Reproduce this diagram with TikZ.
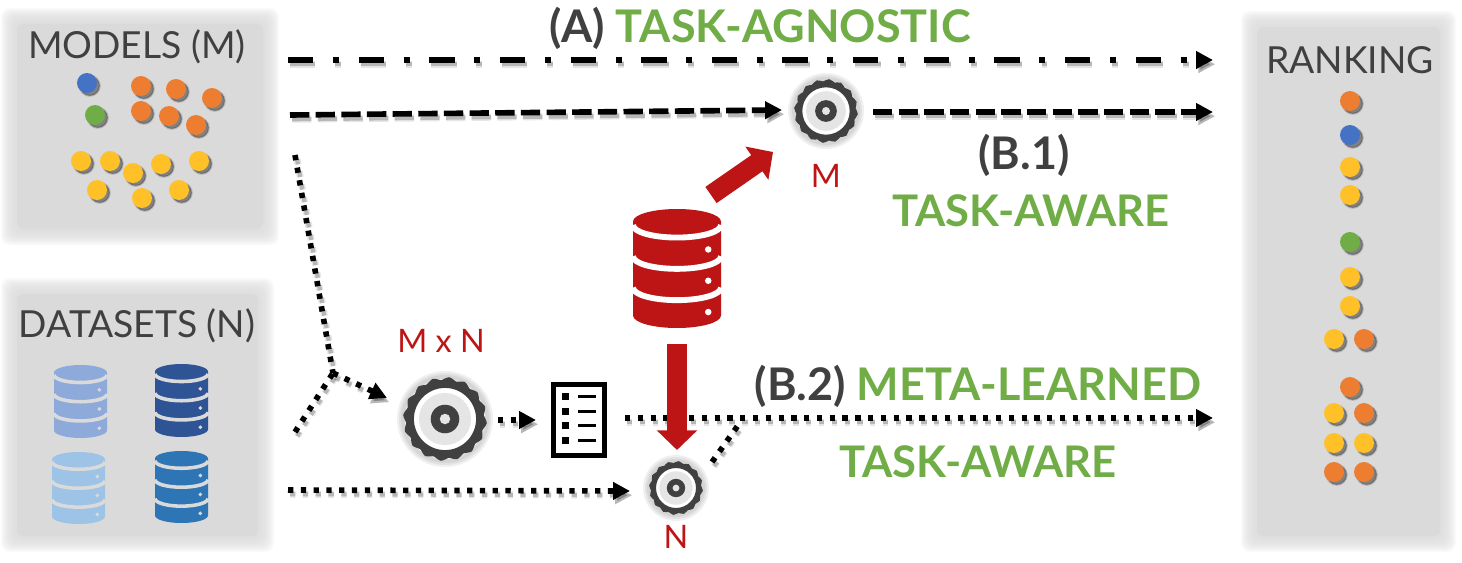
\documentclass[tikz,border=0pt]{standalone}
\usepackage{fontspec}
\setmainfont{Lato}
\usetikzlibrary{arrows.meta}
\definecolor{boxgray}{RGB}{218, 218, 218}
\definecolor{textgray}{RGB}{64, 64, 64}
\definecolor{gearred}{RGB}{189, 21, 21}
\definecolor{taskgreen}{RGB}{112, 173, 71}
\definecolor{dotblue}{RGB}{68, 114, 196}
\definecolor{dotgreen}{RGB}{112, 173, 71}
\definecolor{dotorange}{RGB}{237, 125, 49}
\definecolor{dotyellow}{RGB}{255, 192, 40}
\definecolor{dbone}{RGB}{142, 170, 219}
\definecolor{dbtwo}{RGB}{47, 84, 150}
\definecolor{dbthree}{RGB}{157, 195, 230}
\definecolor{dbfour}{RGB}{46, 117, 182}
\tikzstyle{softbox} = [draw=none, fill=boxgray, rounded corners=9]
\tikzstyle{softedge} = [draw=none, fill=boxgray, opacity=0.12, rounded corners=12]
\tikzstyle{boxtitle} = [anchor=base, text=textgray, font=\fontsize{53}{53}\selectfont, inner sep=0]
\tikzstyle{headlabel} = [anchor=base, font=\bfseries\fontsize{64}{64}\selectfont, inner sep=0]
\tikzstyle{tasklabel} = [anchor=base, text=taskgreen, font=\bfseries\fontsize{62}{62}\selectfont, inner sep=0]
\tikzstyle{redlabel} = [anchor=base, text=gearred, font=\fontsize{46}{46}\selectfont, inner sep=0]
\tikzstyle{arrowshadow} = [preaction={draw=black!70, opacity=0.14, line width=10pt, dash pattern=#1, transform canvas={shift={(3pt,-6pt)}}}, preaction={draw=black, opacity=0.2, line width=6pt, -{Triangle[length=24,width=24]}, dash pattern=#1, transform canvas={shift={(3pt,-6pt)}}}]
\tikzstyle{lineshadow} = [preaction={draw=black!70, opacity=0.14, line width=10pt, dash pattern=#1, transform canvas={shift={(3pt,-6pt)}}}, preaction={draw=black, opacity=0.2, line width=6pt, dash pattern=#1, transform canvas={shift={(3pt,-6pt)}}}]
\tikzstyle{dashdotarrow} = [-{Triangle[length=24,width=24]}, black, line width=8, dash pattern=on 36pt off 28pt on 8.5pt off 28pt, arrowshadow={on 36pt off 28pt on 8.5pt off 28pt}]
\tikzstyle{dasharrow} = [-{Triangle[length=24,width=24]}, black, line width=8, dash pattern=on 27.5pt off 9pt, arrowshadow={on 27.5pt off 9pt}]
\tikzstyle{dotarrow} = [-{Triangle[length=24,width=24]}, black, line width=8, dash pattern=on 7.5pt off 10.7pt, arrowshadow={on 7.5pt off 10.7pt}]
\tikzstyle{dotline} = [black, line width=8, dash pattern=on 7.5pt off 10.7pt, lineshadow={on 7.5pt off 10.7pt}]
\tikzstyle{redarrow} = [-{Triangle[length=28,width=56]}, gearred, line width=28]
\tikzstyle{dot} = [circle, inner sep=0, minimum size=28.4, preaction={fill=black, draw=black, line width=3pt, opacity=0.15, transform canvas={shift={(4pt,-4pt)}}}, preaction={fill=black, opacity=0.3, transform canvas={shift={(4pt,-4pt)}}}]
\newcommand{\gearicon}[4]{%
    \node[circle, inner sep=0, minimum size=#4*2.84] (#1) at (#2, #3) {};
    \foreach \g in {2,4,6} {
        \fill[black, opacity=0.06] (#2, #3) circle (#4+\g);
    }
    \fill[white] (#2, #3) circle (#4-2);
    \fill[boxgray!70] (#2, #3) circle (#4*0.62);
    \fill[textgray, even odd rule] plot[smooth cycle, samples=64, domain=0:354.375, variable=\t] ({#2+(#4*(0.965+0.035*sin(16*\t)))*cos(\t)}, {#3+(#4*(0.965+0.035*sin(16*\t)))*sin(\t)}) (#2, #3) circle (#4*0.74);
    \fill[textgray] (#2, #3) circle (#4*0.34);
    \fill[white!90!black] (#2, #3) circle (#4*0.125);
}
\newcommand{\dbicon}[7]{%
    \node[inner sep=0, minimum width=#4*1.4226, minimum height=#5*1.4226] (#1) at (#2+#4/2, #3+#5/2) {};
    \begin{scope}[shift={(#2, #3)}, xscale=#4, yscale=#5]
        \fill[#6] (0, 0.105) arc[start angle=180, end angle=0, x radius=0.5, y radius=-0.105] -- (1, 0.895) arc[start angle=0, end angle=180, x radius=0.5, y radius=0.105] -- cycle;
        \foreach \k in {0,1,2} {
            \draw[#7, line width=#5*0.07] (0, 0.135+\k*0.263) arc[start angle=180, end angle=0, x radius=0.5, y radius=0.105];
            \fill[#7] (0.855, 0.34+\k*0.263) circle[x radius=0.037, y radius=0.037*#4/#5];
        }
    \end{scope}
}
\begin{document}
\begin{tikzpicture}[x=0.05cm, y=-0.05cm]
    \useasboundingbox (0, 0) rectangle (1462, 562);

    % Panels
    \foreach \l/\t/\r/\b in {5/12/275/241, 5/282/270/548, 1245/15/1452/548} {
        \foreach \g in {-8,-7,...,6} {
            \fill[softedge] (\l-\g+2, \t-\g+2) rectangle (\r+\g-2, \b+\g-2);
        }
        \fill[softbox] (\l+12, \t+12) rectangle (\r-12, \b-12);
    }
    \node[boxtitle] (modelstitle) at (137, 58) {MODELS (M)};
    \node[boxtitle] (datatitle) at (137, 337) {DATASETS (N)};
    \node[boxtitle] (ranktitle) at (1350, 73) {RANKING};

    % Model dots
    \foreach \i/\x/\y/\c in {1/87/83/dotblue, 2/95/115/dotgreen,
        3/141/86/dotorange, 4/176/89/dotorange, 5/212/98/dotorange, 6/141/111/dotorange, 7/169/116/dotorange, 8/196/125/dotorange,
        9/81/161/dotyellow, 10/110/161/dotyellow, 11/133/173/dotyellow, 12/161/164/dotyellow, 13/199/161/dotyellow, 14/97/190/dotyellow, 15/142/198/dotyellow, 16/179/190/dotyellow} {
        \node[dot, fill=\c] (m\i) at (\x, \y) {};
    }

    % Ranking dots
    \foreach \i/\x/\y/\c in {1/1350/101/dotorange, 2/1350/135/dotblue, 3/1350/167/dotyellow, 4/1350/195/dotyellow,
        5/1350/242/dotgreen, 6/1350/277/dotyellow, 7/1350/306/dotyellow, 8/1334/339/dotyellow, 9/1364/339/dotorange,
        10/1350/387/dotorange, 11/1334/413/dotyellow, 12/1364/413/dotorange,
        13/1334/443/dotyellow, 14/1364/443/dotyellow, 15/1334/472/dotorange, 16/1364/472/dotorange} {
        \node[dot, fill=\c] (r\i) at (\x, \y) {};
    }

    % Databases
    \dbicon{dba}{54}{365}{53}{73}{dbone}{boxgray}
    \dbicon{dbb}{155}{364}{53}{73}{dbtwo}{boxgray}
    \dbicon{dbc}{52}{452}{53}{72}{dbthree}{boxgray}
    \dbicon{dbd}{155}{451}{53}{72}{dbfour}{boxgray}
    \dbicon{dbred}{633}{209}{88}{119}{gearred}{white}

    % Gears
    \gearicon{gearM}{826}{111}{32}
    \gearicon{gearMN}{445}{419}{42}
    \gearicon{gearN}{676}{488}{27}

    % Score list
    \node[draw=black, fill=white, line width=7, minimum width=73, minimum height=100, inner sep=0] (scorelist) at (579, 420) {};
    \foreach \k in {0,1,2,3} {
        \fill[black] (562, 393+\k*14.7) rectangle (569, 400+\k*14.7);
        \fill[black] (578, 395+\k*14.7) rectangle (596, 398+\k*14.7);
    }

    % Free ends
    \coordinate (aStart) at (288, 60);
    \coordinate (aEnd) at (1213, 60);
    \coordinate (bStart) at (290, 115);
    \coordinate (bEnd) at (1213, 112);
    \coordinate (bOut) at (873, 112);
    \coordinate (cStart) at (295, 155);
    \coordinate (cDown) at (295, 432);
    \coordinate (cJoin) at (333, 373);
    \coordinate (cEnd) at (387, 398);
    \coordinate (dStart) at (288, 490);
    \coordinate (dEnd) at (630, 491);
    \coordinate (eStart) at (625, 418);
    \coordinate (eEnd) at (1213, 418);
    \coordinate (eJoin) at (739, 424);
    \coordinate (eFoot) at (712, 462);
    \coordinate (fStart) at (498, 420);
    \coordinate (fEnd) at (536, 420);
    \coordinate (gEnd) at (782, 110);
    \coordinate (dbOut) at (711, 195);
    \coordinate (dbTip) at (773, 152);
    \coordinate (dbIn) at (677, 344);
    \coordinate (dbDown) at (677, 450);

    % Task agnostic and task aware
    \draw[dashdotarrow] (aStart) -- (aEnd);
    \draw[dasharrow] (bStart) -- (gEnd);
    \draw[dasharrow] (bOut) -- (bEnd);

    % Meta learned
    \draw[dotline] (cStart) -- (cJoin);
    \draw[dotline] (cDown) -- (cJoin);
    \draw[dotarrow] (cJoin) -- (cEnd);
    \draw[dotarrow] (fStart) -- (fEnd);
    \draw[dotarrow] (eStart) -- (eEnd);
    \draw[dotarrow] (dStart) -- (dEnd);
    \draw[dotline] (eFoot) -- (eJoin);

    % Red arrows
    \draw[redarrow] (dbOut) -- (dbTip);
    \draw[redarrow] (dbIn) -- (dbDown);

    % Labels
    \node[headlabel] (alabel) at (760, 42) {\textcolor{textgray}{(A)} \textcolor{taskgreen}{TASK-AGNOSTIC}};
    \node[headlabel, text=textgray] (bonelabel) at (1024, 169) {(B.1)};
    \node[tasklabel] (bonetask) at (1031, 226) {TASK-AWARE};
    \node[headlabel] (btwolabel) at (978, 400) {\textcolor{textgray}{(B.2)} \textcolor{taskgreen}{META-LEARNED}};
    \node[tasklabel] (btwotask) at (978, 477) {TASK-AWARE};
    \node[redlabel] (mlabel) at (826, 187) {M};
    \node[redlabel] (mnlabel) at (441, 352) {M x N};
    \node[redlabel] (nlabel) at (676, 548) {N};
\end{tikzpicture}
\end{document}
